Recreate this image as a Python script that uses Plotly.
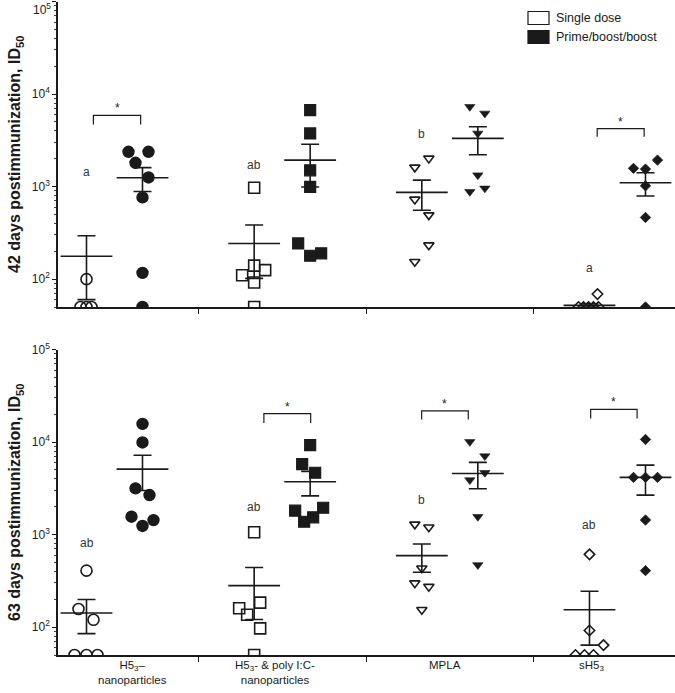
import math
import plotly.graph_objects as go

# ---------------- data ----------------
CATEGORIES = ["H5<sub>3</sub>–<br>nanoparticles",
              "H5<sub>3</sub>- &amp; poly I:C-<br>nanoparticles",
              "MPLA",
              "sH5<sub>3</sub>"]
SERIES_NAMES = ["Single dose", "Prime/boost/boost"]

# 42 days
D42_SINGLE = [[100, 50, 50, 50],
              [970, 140, 110, 125, 92, 50],
              [2018, 1614, 727, 492, 233, 154],
              [50, 50, 50, 50, 50, 69]]
D42_SINGLE_MEAN = [177, 243, 865, 52]
D42_SINGLE_SEM = [117, 141, 310, 2]
D42_PRIME = [[2377, 2377, 1807, 1256, 764, 117, 50],
             [6700, 3750, 1500, 995, 243, 179, 190],
             [7290, 6180, 3757, 1330, 879, 957],
             [1574, 1545, 1932, 1020, 464, 50]]
D42_PRIME_MEAN = [1245, 1930, 3320, 1100]
D42_PRIME_SEM = [360, 940, 1110, 310]
D42_LETTERS = ["a", "ab", "b", "a"]
D42_LETTER_Y = [1445, 1706, 3700, 131]

# 63 days
D63_SINGLE = [[408, 157, 120, 50, 50, 50],
              [1059, 184, 160, 136, 97, 50],
              [1291, 1199, 433, 299, 274, 154],
              [612, 92, 64, 50, 50, 50]]
D63_SINGLE_MEAN = [142, 281, 592, 154]
D63_SINGLE_SEM = [57, 160, 200, 90]
D63_PRIME = [[15700, 9900, 3160, 2675, 1560, 1435, 1240],
             [9270, 5780, 4660, 1812, 1950, 1377, 1538],
             [10050, 7050, 4660, 3880, 1560, 470],
             [10670, 4150, 4150, 4150, 1436, 408]]
D63_PRIME_MEAN = [5100, 3720, 4580, 4150]
D63_PRIME_SEM = [2100, 1100, 1450, 1480]
D63_LETTERS = ["ab", "ab", "b", "ab"]
D63_LETTER_Y = [806, 1968, 2360, 1270]

# significance brackets: (group, top value, foot value)
D42_BRACKETS = [(0, 5890, 4700), (3, 4220, 3450)]
D63_BRACKETS = [(1, 20300, 16100), (2, 21700, 17500), (3, 22500, 18000)]

Y_TICKS = [100, 1000, 10000, 100000]
Y_TICK_TEXT = ["10<sup>2</sup>", "10<sup>3</sup>", "10<sup>4</sup>", "10<sup>5</sup>"]

# ---------------- layout helpers (positions / styles) ----------------
PX = 167.7  # px per category unit
OFF = 0.167
# swarm jitter (px) for each point
J42_SINGLE = [[0, -6, 0, 5], [0, 0, -12, 11, 0, 0], [7, -7, -7, 7, 7, -7], [-11, -6, -1, 4, 9, 8]]
J42_PRIME = [[-14, 6, -7, 6, 0, 0, 0], [0, 0, 0, 0, -12, 0, 11], [-8, 7, 0, 0, -8, 7], [-12, 0, 12, 0, 0, 0]]
J63_SINGLE = [[0, -8, 7, -12, 0, 11], [0, 6, -15, -7, 6, 0], [-7, 7, 0, -7, 7, 0], [0, 0, 14, -14, -5, 4]]
J63_PRIME = [[0, 0, -7, 7, -11, 11, 0], [0, -8, 5, -15, 13, -6, 3], [-8, 7, 7, -8, 0, 0], [0, -12, 0, 12, 0, 0]]
BRACKET_X = {(42, 0): (-0.126, 0.156), (42, 3): (-0.121, 0.159),
             (63, 1): (-0.109, 0.170), (63, 2): (-0.168, 0.110), (63, 3): (-0.160, 0.117)}
LABEL_X = [0.11, 0.957, 1.971, 2.847]

SYMBOLS = ["circle", "square", "triangle-down", "diamond"]
SIZES = [11, 11, 9, 8]
FILLED_LINE = [1.4, 1.2, 0.6, 0.8]
INK = "#1a1a1a"
FONT = "Liberation Sans, Arial, sans-serif"

fig = go.Figure()


def add_panel(xa, ya, single, jsingle, smean, ssem, prime, jprime, pmean, psem, brackets, day):
    for g in range(4):
        for vals, jit, mean, sem, side, open_ in (
                (single[g], jsingle[g], smean[g], ssem[g], -OFF, True),
                (prime[g], jprime[g], pmean[g], psem[g], OFF, False)):
            xs = [g + side + j / PX for j in jit]
            sym = SYMBOLS[g] + ("-open" if open_ else "")
            fig.add_trace(go.Scatter(
                x=xs, y=vals, mode="markers", xaxis=xa, yaxis=ya, showlegend=False,
                marker=dict(symbol=sym, size=SIZES[g], color=INK,
                            line=dict(color=INK, width=1.6 if open_ else FILLED_LINE[g]))))
            fig.add_trace(go.Scatter(
                x=[g + side], y=[mean], mode="markers", xaxis=xa, yaxis=ya, showlegend=False,
                marker=dict(symbol="line-ew", size=37, color=INK, line=dict(color=INK, width=1.6)),
                error_y=dict(type="data", array=[sem], width=9, thickness=1.6, color=INK)))
    for g, top, foot in brackets:
        l, r = BRACKET_X[(day, g)]
        fig.add_trace(go.Scatter(
            x=[g + l, g + l, g + r, g + r], y=[foot, top, top, foot], mode="lines",
            xaxis=xa, yaxis=ya, showlegend=False, line=dict(color=INK, width=1.2)))
        fig.add_annotation(x=g + (l + r) / 2, y=math.log10(top), xref=xa, yref=ya,
                           text="*", showarrow=False, yanchor="middle", yshift=7,
                           font=dict(size=12, color=INK, family=FONT))


add_panel("x", "y", D42_SINGLE, J42_SINGLE, D42_SINGLE_MEAN, D42_SINGLE_SEM,
          D42_PRIME, J42_PRIME, D42_PRIME_MEAN, D42_PRIME_SEM, D42_BRACKETS, 42)
add_panel("x2", "y2", D63_SINGLE, J63_SINGLE, D63_SINGLE_MEAN, D63_SINGLE_SEM,
          D63_PRIME, J63_PRIME, D63_PRIME_MEAN, D63_PRIME_SEM, D63_BRACKETS, 63)

for g in range(4):
    fig.add_annotation(x=g - OFF, y=math.log10(D42_LETTER_Y[g]), xref="x", yref="y",
                       text=D42_LETTERS[g], showarrow=False,
                       font=dict(size=12, color="#333", family=FONT))
    fig.add_annotation(x=g - OFF, y=math.log10(D63_LETTER_Y[g]), xref="x2", yref="y2",
                       text=D63_LETTERS[g], showarrow=False,
                       font=dict(size=12, color="#333", family=FONT))
    fig.add_annotation(x=LABEL_X[g], y=0, xref="x2", yref="paper", yanchor="top", yshift=-3,
                       text=CATEGORIES[g], showarrow=False, align="center", borderpad=0,
                       font=dict(size=11.5, color=INK, family=FONT))

# legend (manual)
W, H, L, B = 675, 693, 58, 38
PH = H - B
def px_x(p): return (p - L) / (W - L)
def px_y(p): return (PH - p) / PH
for i, (name, fill) in enumerate(zip(SERIES_NAMES, ["white", INK])):
    yc = 18 + 19 * i
    fig.add_shape(type="rect", xref="paper", yref="paper",
                  x0=px_x(528), x1=px_x(549), y0=px_y(yc + 6.5), y1=px_y(yc - 6.5),
                  fillcolor=fill, line=dict(color=INK, width=1.2))
    fig.add_annotation(x=px_x(555), y=px_y(yc), xref="paper", yref="paper",
                       xanchor="left", yanchor="middle", text=name, showarrow=False,
                       borderpad=0, font=dict(size=12.5, color=INK, family=FONT))

# top-panel 10^5 label sits at the very top edge of the page
fig.add_annotation(x=px_x(52), y=1, xref="paper", yref="paper", xanchor="right", yanchor="top",
                   text=Y_TICK_TEXT[-1], showarrow=False, borderpad=0,
                   font=dict(size=12, color="#222", family=FONT))

xrange = [-0.337, 3.343]
xcommon = dict(range=xrange, showline=True, linecolor=INK, linewidth=1.6, automargin=False,
               tickvals=[0.5, 1.5, 2.5], ticks="outside", ticklen=5, tickwidth=1.4,
               tickcolor=INK, showticklabels=False, showgrid=False, zeroline=False)
minor_vals = [m * 10 ** e for e in range(1, 5) for m in range(2, 10) if 50 <= m * 10 ** e <= 100000]
ycommon = dict(type="log", range=[math.log10(50), 5], showline=True, linecolor=INK, linewidth=1.6,
               automargin=False, tickvals=Y_TICKS, ticks="outside", ticklen=4, tickwidth=1.2,
               tickcolor=INK, showgrid=False, zeroline=False,
               tickfont=dict(size=12, color="#222", family=FONT),
               minor=dict(tickvals=minor_vals, ticks="outside", ticklen=2, tickwidth=1, tickcolor="#444"))

fig.update_layout(
    width=W, height=H, margin=dict(l=L, r=0, t=0, b=B, autoexpand=False),
    paper_bgcolor="white", plot_bgcolor="white",
    font=dict(family=FONT, color=INK),
    xaxis=dict(domain=[0, 1], anchor="y", **xcommon),
    xaxis2=dict(domain=[0, 1], anchor="y2", **xcommon),
    yaxis=dict(domain=[px_y(307), px_y(1.5)], anchor="x", ticktext=Y_TICK_TEXT[:-1] + [""],
               title=dict(text="<b>42 days postimmunization, ID<sub>50</sub></b>",
                          font=dict(size=16, color=INK, family=FONT), standoff=7),
               **ycommon),
    yaxis2=dict(domain=[0, px_y(349.5)], anchor="x2", ticktext=Y_TICK_TEXT,
                title=dict(text="<b>63 days postimmunization, ID<sub>50</sub></b>",
                           font=dict(size=16, color=INK, family=FONT), standoff=7),
                **ycommon),
)

fig.write_html("out.html", config={"displayModeBar": False},
               post_script="document.body.style.margin = '0';")
